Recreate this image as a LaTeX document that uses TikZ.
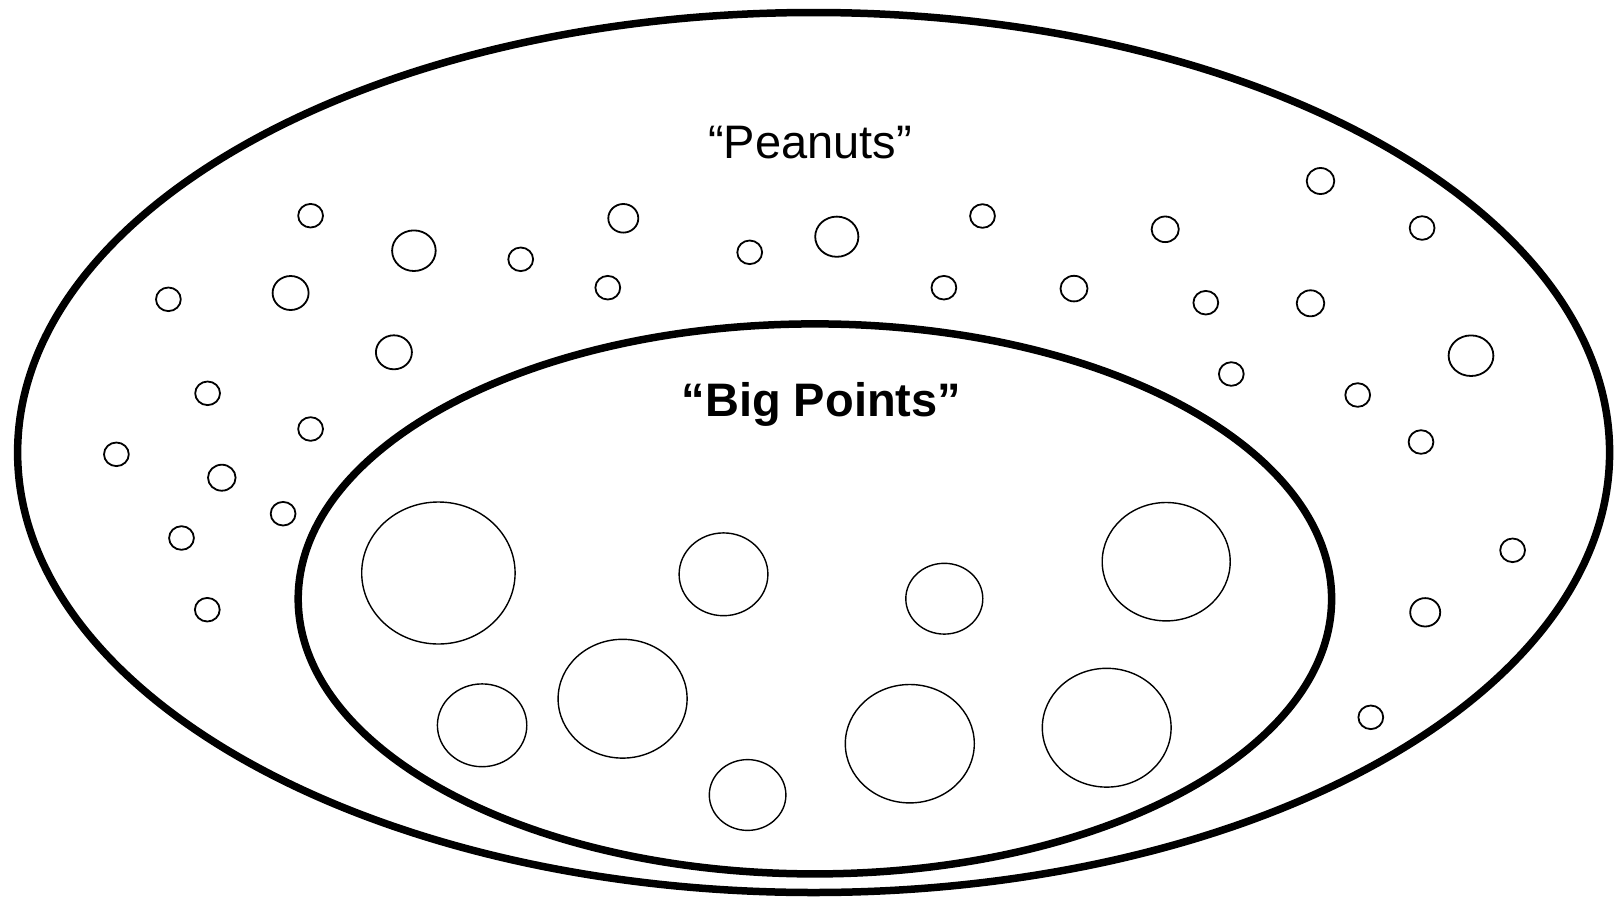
\documentclass[tikz,border=0pt]{standalone}
\usepackage{fontspec}
\setmainfont{Liberation Sans}
\usepackage{tikz}

\begin{document}
\begin{tikzpicture}[x=1pt,y=-1pt,
  setline/.style={line width=7.5pt},
  pea/.style={line width=1.8pt},
  bigpt/.style={line width=1.4pt},
  lbl/.style={font=\fontsize{47}{56}\selectfont,anchor=base,inner sep=0pt}]
\useasboundingbox (0,0) rectangle (1616,897);
\draw[setline] (813.6,452.5) ellipse [x radius=796pt, y radius=440pt];
\draw[setline] (814.9,598.9) ellipse [x radius=516.7pt, y radius=275pt];
\node[lbl] (peanuts) at (810,158) {“Peanuts”};
\node[lbl,font=\fontsize{47}{56}\selectfont\bfseries] (bigpoints) at (821.4,416) {“Big Points”};
% peanuts
\foreach \x/\y/\a/\b in {310.6/215.7/12.4/11.8, 413.9/250.7/21.8/20.3, 520.7/259.3/12.4/11.8,
  168.4/299.3/12.4/11.8, 290.6/293/18/17, 393.9/352.3/18/17, 207.6/393.3/12.4/11.8,
  310.6/429/12.4/11.8, 623.3/218.3/15/14.3, 749.7/252.3/12.4/11.8, 836.8/236.7/21.6/20.1,
  982.5/216/12.4/11.8, 607.8/287.7/12.4/11.8, 943.9/287.7/12.4/11.8, 1074/288.6/13.5/12.8,
  1320.5/181/13.8/13, 1165.2/229.3/13.6/12.8, 1422.1/228/12.4/11.8, 1205.8/302.7/12.4/11.8,
  1310.5/303.3/13.8/13, 1471/355.7/22.4/20.3, 1231.3/374/12.4/11.8, 1357.7/395/12.4/11.8,
  1421/442/12.4/11.8, 116.4/454.3/12.4/11.8, 221.8/477.7/13.8/13, 283.1/513.7/12.4/11.8,
  181.5/538/12.4/11.8, 207.3/609.7/12.4/11.8, 1512.6/550.3/12.4/11.8, 1425.2/612.3/15/14.2,
  1370.8/717.3/12.4/11.8}
  \draw[pea] (\x,\y) ellipse [x radius=\a pt, y radius=\b pt];
% big points
\foreach \x/\y/\a/\b in {438.4/573/76.7/71, 723.5/574.3/44.4/41.4, 944.3/598.7/38.5/35.4,
  1166.2/561.7/64/59.2, 482.1/725.3/44.7/41.4, 622.6/698.7/64.5/59.4,
  747.6/795/38.3/35.4, 909.8/743.7/64.5/59.2, 1106.7/727.7/64.4/59.4}
  \draw[bigpt] (\x,\y) ellipse [x radius=\a pt, y radius=\b pt];
\end{tikzpicture}
\end{document}
